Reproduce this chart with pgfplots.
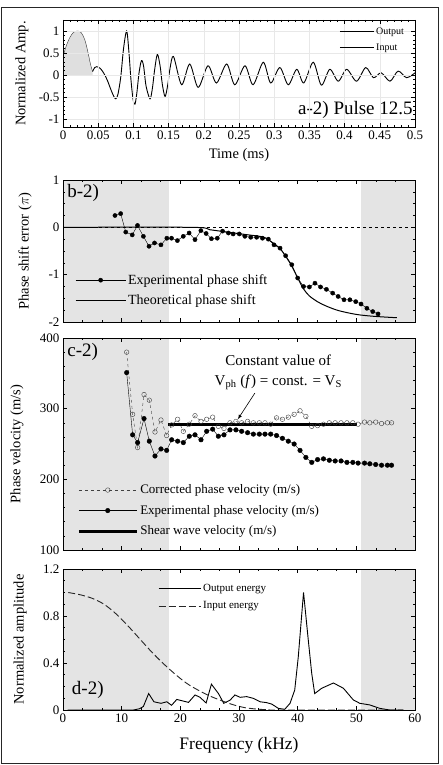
\documentclass[border=0pt]{standalone}
\usepackage{fontspec}
\setmainfont{Liberation Serif}
\usepackage{pgfplots}
\pgfplotsset{compat=1.18}
\definecolor{shadecol}{HTML}{E4E4E4}
\pgfplotsset{
  panel/.style={
    scale only axis, width=352pt,
    axis line style={line width=0.9pt},
    tick style={line width=0.6pt, black},
    major tick length=4pt, minor tick length=2pt,
    tick label style={font=\fontsize{13}{14}\selectfont},
    label style={font=\fontsize{14.5}{16}\selectfont},
    /pgf/number format/assume math mode=true,
    scaled ticks=false,
    axis on top,
    legend cell align=left,
    legend style={draw=none, fill=none, inner sep=0pt},
  },
}
\begin{document}
\begin{tikzpicture}
\path (0pt,0pt) rectangle (442pt,-765pt);
\draw[line width=1pt, black!85] (1.5pt,-8pt) rectangle (438pt,-763pt);

% ---------------- panel a
\begin{axis}[panel, at={(63pt,-127pt)}, anchor=south west, height=107pt,
  xmin=0, xmax=0.5, ymin=-1.18, ymax=1.25,
  xtick={0,0.05,0.1,0.15,0.2,0.25,0.3,0.35,0.4,0.45,0.5},
  xticklabels={0,0.05,0.1,0.15,0.2,0.25,0.3,0.35,0.4,0.45,0.5},
  ytick={-1,-0.5,0,0.5,1}, yticklabels={-1,-0.5,0,0.5,1},
  minor x tick num=4, minor y tick num=4,
  grid=major, major grid style={gray!18, thin},
  xlabel={Time (ms)}, ylabel={Normalized Amp.},
  xlabel style={at={(axis description cs:0.5,-0.262)}, anchor=center},
  ylabel style={at={(axis description cs:-0.1165,0.5)}, anchor=center},
  legend style={at={(axis description cs:0.975,0.95)}, anchor=north east, font=\fontsize{10}{11}\selectfont, row sep=4pt},
  legend image code/.code={\draw[#1] (0pt,0pt) -- (34pt,0pt);},
]
\addplot[fill=gray!25, draw=none, forget plot] coordinates {(0,0) (0,0.42) (0.005,0.68) (0.01,0.86) (0.015,0.97) (0.021,1.0) (0.026,0.96) (0.031,0.8) (0.035,0.55) (0.039,0.25) (0.042,0.08) (0.042,0)} -- cycle;
\addplot[black!80, thin, smooth, forget plot] coordinates {(0,0.42) (0.005,0.68) (0.01,0.86) (0.015,0.97) (0.021,1.0) (0.026,0.96) (0.031,0.8) (0.035,0.55) (0.039,0.25) (0.042,0.08)};
\addplot[black!70, thin, forget plot] coordinates {(0.04,0) (0.5,0)};
\addplot[black, thin, densely dashdotted, forget plot] coordinates {(0,0) (0.04,0)};
\addplot[black, line width=0.9pt, smooth, forget plot] coordinates {
(0.042,0.08) (0.045,0.17) (0.048,0.19) (0.053,0.15) (0.058,0.04) (0.063,-0.12) (0.068,-0.33) (0.072,-0.48) (0.075,-0.54) (0.078,-0.44) (0.082,-0.05) (0.086,0.6) (0.0904,1.0) (0.0935,0.55) (0.0965,-0.1) (0.0995,-0.55) (0.1022,-0.66) (0.1048,-0.42) (0.108,0.05) (0.1115,0.33) (0.1145,0.2) (0.118,-0.25) (0.1236,-0.54) (0.127,-0.3) (0.13,0.1) (0.134,0.47) (0.138,0.2) (0.141,-0.2) (0.145,-0.49) (0.149,-0.2) (0.152,0.15) (0.157,0.42)
(0.1685,-0.22) (0.180,0.25) (0.192,-0.28) (0.206,0.21) (0.218,-0.18) (0.2325,0.25) (0.244,-0.22) (0.2585,0.21) (0.270,-0.22) (0.2845,0.29) (0.295,-0.18) (0.308,0.17) (0.320,-0.22) (0.332,0.13) (0.342,-0.18) (0.3555,0.29) (0.367,-0.23) (0.379,0.13) (0.391,-0.14) (0.403,0.13) (0.417,-0.14) (0.430,0.17) (0.441,-0.06) (0.452,0.05) (0.4645,-0.14) (0.476,0.09) (0.488,-0.06) (0.5,0.05)};
\addlegendimage{black, line width=0.9pt}\addlegendentry{Output}
\addlegendimage{black, thin}\addlegendentry{Input}
\node[anchor=east, inner sep=0pt, font=\fontsize{19}{20}\selectfont] at (axis cs:0.497,-0.79) {a-2) Pulse 12.5};
\end{axis}

% ---------------- panel b
\begin{axis}[panel, at={(63pt,-322pt)}, anchor=south west, height=142pt,
  xmin=0, xmax=60, ymin=-2, ymax=1,
  xtick={0,10,20,30,40,50,60}, xticklabels={},
  ytick={-2,-1,0,1}, yticklabels={-2,-1,0,1},
  minor x tick num=2, minor y tick num=3,
  ylabel={Phase shift error ($\pi$)},
  ylabel style={at={(axis description cs:-0.108,0.5)}, anchor=center},
  legend style={at={(axis description cs:0.034,0.35)}, anchor=north west, font=\fontsize{14}{15}\selectfont, row sep=5pt},
  legend image code/.code={\draw[mark repeat=2,mark phase=2,#1] plot coordinates {(0pt,0pt) (25pt,0pt) (50pt,0pt)};},
]
\fill[shadecol] (axis cs:0,-2) rectangle (axis cs:18,1);
\fill[shadecol] (axis cs:50.8,-2) rectangle (axis cs:60,1);
\addplot[black, thin, dashed, forget plot] coordinates {(0,0) (60,0)};
\addplot[black, thin, mark=*, mark size=2.1pt] coordinates {
(8.86,0.25) (9.83,0.29) (10.7,-0.10) (11.8,-0.16) (12.7,0.04) (13.7,-0.19) (14.66,-0.40) (15.6,-0.33) (16.7,-0.37) (17.7,-0.23) (18.5,-0.23) (19.5,-0.28) (20.5,-0.19) (21.5,-0.12) (22.5,-0.26) (23.5,-0.07) (24.4,-0.13) (25.3,-0.24) (26.3,-0.23) (27.2,-0.08) (28.2,-0.12) (29.0,-0.14) (30.05,-0.14) (31.0,-0.19) (32.0,-0.21) (33.0,-0.21) (34.0,-0.23) (35.0,-0.25) (35.97,-0.37) (37.0,-0.44) (37.95,-0.60) (39.0,-0.79) (40.0,-1.07) (41.0,-1.25) (42.0,-1.26) (42.95,-1.18) (43.9,-1.26) (44.9,-1.31) (45.97,-1.39) (46.9,-1.46) (47.9,-1.53) (48.9,-1.53) (49.9,-1.57) (50.8,-1.62) (51.8,-1.71) (52.8,-1.78) (53.7,-1.83)};
\addlegendentry{Experimental phase shift}
\addplot[black, line width=1pt, smooth] coordinates {
(0,0) (22,0) (25,-0.05) (28,-0.1) (31,-0.15) (34,-0.2) (35,-0.26) (36,-0.35) (37,-0.45) (38,-0.62) (39,-0.82) (40,-1.07) (41,-1.3) (42,-1.45) (43.5,-1.58) (45,-1.67) (47,-1.76) (50,-1.84) (53,-1.88) (56.9,-1.91)};
\addlegendentry{Theoretical phase shift}
\node[anchor=north west, inner sep=0pt, font=\fontsize{19}{20}\selectfont] at (axis description cs:0.012,0.97) {b-2)};
\end{axis}

% ---------------- panel c
\begin{axis}[panel, at={(63pt,-550pt)}, anchor=south west, height=212pt,
  xmin=0, xmax=60, ymin=100, ymax=400,
  xtick={0,10,20,30,40,50,60}, xticklabels={},
  ytick={100,200,300,400}, yticklabels={100,200,300,400},
  minor x tick num=2, minor y tick num=4,
  ylabel={Phase velocity (m/s)},
  ylabel style={at={(axis description cs:-0.131,0.5)}, anchor=center},
  legend style={at={(axis description cs:0.04,0.318)}, anchor=north west, font=\fontsize{13}{14}\selectfont, row sep=6pt},
  legend image code/.code={\draw[mark repeat=2,mark phase=2,#1] plot coordinates {(0pt,0pt) (29pt,0pt) (58pt,0pt)};},
]
\fill[shadecol] (axis cs:0,100) rectangle (axis cs:18,400);
\fill[shadecol] (axis cs:50.8,100) rectangle (axis cs:60,400);
\addplot[black!75, thin, dashed, mark=o, mark size=2.3pt, mark options={solid, fill=white}] coordinates {
(10.85,380) (11.87,292) (12.72,245) (13.81,320) (14.71,312) (15.68,267) (16.70,284) (17.67,262) (18.52,277) (19.54,285) (20.51,268) (21.53,278) (22.50,290) (23.52,282) (24.49,285) (25.51,288) (26.48,275) (27.44,272) (28.46,280) (29.48,282) (30.45,280) (31.47,282) (32.45,280) (33.47,280) (34.43,280) (35.4,278) (36.4,287) (37.4,285) (38.4,288) (39.4,292) (40.4,297) (41.4,289) (42.4,275) (43.4,276) (44.4,278) (45.4,280) (46.4,280) (47.4,280) (48.4,280) (49.4,280) (50.3,278) (51.4,281) (52.3,280) (53.3,281) (54.3,279) (55.3,280) (56.0,280)};
\addlegendentry{Corrected phase velocity (m/s)}
\addplot[black, thin, mark=*, mark size=2.3pt] coordinates {
(10.85,351) (11.87,263) (12.72,252) (13.81,286) (14.71,254) (15.68,233) (16.70,243) (17.67,241) (18.52,256) (19.54,254) (20.51,252) (21.53,261) (22.50,263) (23.52,256) (24.49,268) (25.51,271) (26.48,261) (27.44,263) (28.46,270) (29.48,270) (30.45,268) (31.47,266) (32.45,264) (33.47,264) (34.43,264) (35.4,264) (36.4,262) (37.4,258) (38.4,254) (39.4,250) (40.4,241) (41.4,231) (42.4,224) (43.4,228) (44.4,229) (45.4,227) (46.4,226) (47.4,226) (48.4,224) (49.4,224) (50.3,223) (51.4,223) (52.3,222) (53.3,221) (54.3,220) (55.3,220) (56.0,220)};
\addlegendentry{Experimental phase velocity (m/s)}
\addplot[black, line width=3pt] coordinates {(17.9,278) (50.1,278)};
\addlegendentry{Shear wave velocity (m/s)}
\node[anchor=north west, inner sep=0pt, font=\fontsize{19}{20}\selectfont] at (axis description cs:0.012,0.975) {c-2)};
\node[align=center, font=\fontsize{15}{20}\selectfont, inner sep=0pt] at (axis cs:36.7,351) {Constant value of\\V\textsubscript{ph} (\textit{f}) = const. = V\textsubscript{S}};
\draw[-latex, line width=0.6pt] (axis cs:32.7,322) -- (axis cs:29.8,285);
\end{axis}

% ---------------- panel d
\begin{axis}[panel, at={(63pt,-710pt)}, anchor=south west, height=141pt,
  xmin=0, xmax=60, ymin=0, ymax=1.2,
  xtick={0,10,20,30,40,50,60}, xticklabels={0,10,20,30,40,50,60},
  ytick={0,0.4,0.8,1.2}, yticklabels={0,0.4,0.8,1.2},
  minor x tick num=2, minor y tick num=3,
  xlabel={Frequency (kHz)}, ylabel={Normalized amplitude},
  xlabel style={at={(axis description cs:0.5,-0.248)}, anchor=center, font=\fontsize{17.5}{18}\selectfont},
  ylabel style={at={(axis description cs:-0.122,0.5)}, anchor=center},
  legend style={at={(axis description cs:0.27,0.91)}, anchor=north west, font=\fontsize{11}{12}\selectfont, row sep=5pt},
  legend image code/.code={\draw[#1] (0pt,0pt) -- (42pt,0pt);},
]
\fill[shadecol] (axis cs:0,0) rectangle (axis cs:18,1.2);
\fill[shadecol] (axis cs:50.8,0) rectangle (axis cs:60,1.2);
\addplot[black, line width=0.9pt] coordinates {
(0.8,0) (12,0) (13.0,0.01) (13.7,0.03) (14.6,0.14) (15.5,0.07) (16.7,0.057) (17.7,0.07) (18.5,0.04) (19.4,0.09) (20.2,0.08) (21.4,0.065) (22.5,0.128) (23.3,0.11) (24.4,0.06) (25.3,0.22) (26.5,0.14) (27.4,0.057) (28.5,0.085) (29.3,0.128) (30.2,0.108) (31.3,0.114) (32.4,0.10) (33.6,0.07) (34.7,0.063) (35.6,0.05) (36.7,0.014) (37.8,0.006) (38.7,0.057) (39.5,0.17) (40.1,0.45) (41.0,1.0) (41.8,0.6) (42.4,0.31) (42.9,0.14) (44.1,0.185) (46.1,0.23) (47.8,0.185) (49.5,0.085) (50.6,0.057) (52.3,0.043) (54.0,0.014) (55.7,0.0) (58,0)};
\addlegendentry{Output energy}
\addplot[black!85, line width=0.9pt, dash pattern=on 7pt off 3pt, smooth] coordinates {
(0.9,1.0) (3,0.98) (5,0.95) (7,0.90) (9,0.82) (11,0.72) (13,0.61) (15,0.50) (17,0.40) (19,0.31) (21,0.23) (23,0.17) (25,0.12) (27,0.08) (29,0.045) (31,0.02) (33,0.008) (35,0.002) (37,0) (58,0)};
\addlegendentry{Input energy}
\node[anchor=west, inner sep=0pt, font=\fontsize{19}{20}\selectfont] at (axis cs:1.5,0.17) {d-2)};
\end{axis}
\end{tikzpicture}
\end{document}
